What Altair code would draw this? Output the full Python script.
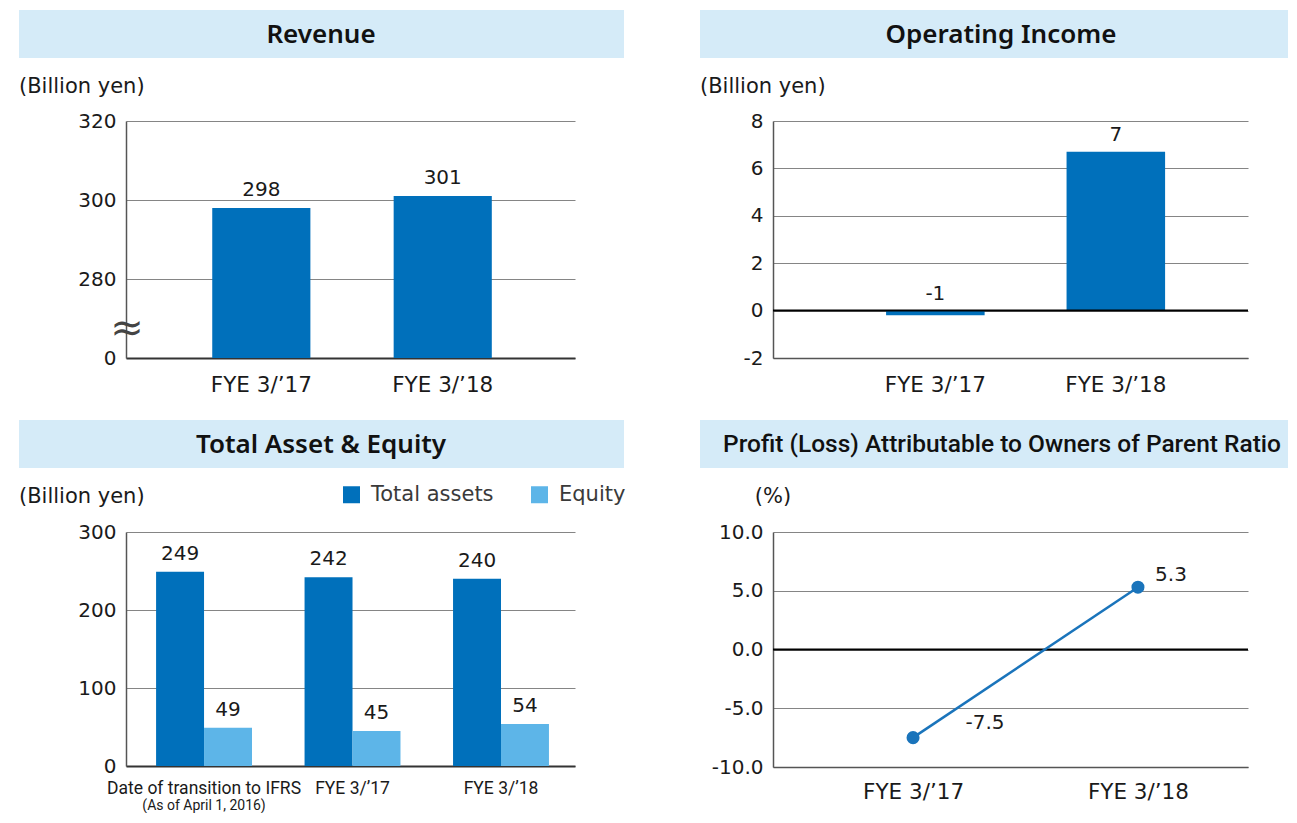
import altair as alt
import pandas as pd

# ---------------- data ----------------
years = ["FYE 3/’17", "FYE 3/’18"]
revenue = [298, 301]
revenue_ticks = [260, 280, 300, 320]          # 260 is the axis break, shown as "0"
operating_income = [-0.2, 6.7]
operating_income_labels = ["-1", "7"]
operating_ticks = [-2, 0, 2, 4, 6, 8]
asset_categories = ["Date of transition to IFRS", "FYE 3/’17", "FYE 3/’18"]
asset_note = "(As of April 1, 2016)"
series_names = ["Total assets", "Equity"]
total_assets = [249, 242, 240]
equity = [49, 45, 54]
asset_ticks = [0, 100, 200, 300]
profit_ratio = [-7.5, 5.3]
profit_ratio_labels = ["-7.5", "5.3"]
ratio_ticks = [-10, -5, 0, 5, 10]

titles = ["Revenue", "Operating Income", "Total Asset & Equity",
          "Profit (Loss) Attributable to Owners of Parent Ratio"]
unit_yen = "(Billion yen)"
unit_pct = "(%)"

# ---------------- style ----------------
FONT = "DejaVu Sans"
NARROW = "Roboto"
TITLE_FONT = "Noto Sans"
BLUE = "#0070bb"
LIGHT = "#5db5e8"
LINE = "#1a74bb"
HEADER_BG = "#d5ebf8"
GRID = "#858585"
AXIS = "#555555"
TEXT = "#1a1a1a"
HYPHEN = "replace(datum.label, '\u2212', '-')"

one = pd.DataFrame({"k": [0]})


def header(title, x0, x1, y0, y1, cx, font=TITLE_FONT, size=26, weight=600):
    rect = alt.Chart(one).mark_rect(color=HEADER_BG).encode(
        x=alt.value(x0), x2=alt.value(x1), y=alt.value(y0), y2=alt.value(y1))
    txt = alt.Chart(one).mark_text(
        text=title, font=font, fontSize=size, fontWeight=weight, color="#111111",
        align="center", baseline="middle").encode(
        x=alt.value(cx), y=alt.value((y0 + y1) / 2 + 1))
    return [rect, txt]


def unit(text, x, y, align="left"):
    return alt.Chart(one).mark_text(
        text=text, font=FONT, fontSize=21, color=TEXT, align=align,
        baseline="middle").encode(x=alt.value(x), y=alt.value(y))


def yaxis(values, expr=HYPHEN, fmt=None):
    kw = dict(values=values, title=None, domain=True, domainColor=AXIS,
              domainWidth=1.5, ticks=False, tickSize=0, grid=True,
              gridColor=GRID, gridWidth=1.2, labelFont=FONT, labelFontSize=20,
              labelColor=TEXT, labelPadding=10, labelExpr=expr)
    if fmt:
        kw["format"] = fmt
    return alt.Axis(**kw)


def xaxis(pad, dom_color="#333333", dom_width=2, font=FONT, size=21.5):
    return alt.Axis(title=None, labelAngle=0, domain=True, domainColor=dom_color,
                    domainWidth=dom_width, ticks=False, tickSize=0, grid=False,
                    labelFont=font, labelFontSize=size, labelColor=TEXT,
                    labelPadding=pad, labelLimit=0)


# ---------------- panel 1: revenue ----------------
W1, H1 = 449, 237
rev_df = pd.DataFrame({"year": years, "value": revenue})
x1 = alt.X("year:N", sort=years,
           scale=alt.Scale(paddingInner=0.459, paddingOuter=0.467, align=0.509),
           axis=xaxis(16))
y1 = alt.Y("value:Q",
           scale=alt.Scale(domain=[260, 320], clamp=True, zero=False, nice=False),
           axis=yaxis(revenue_ticks, expr="datum.value == 260 ? '0' : datum.label"))
rev_bars = alt.Chart(rev_df).mark_bar(color=BLUE).encode(x=x1, y=y1)
rev_text = alt.Chart(rev_df).mark_text(
    font=FONT, fontSize=20, color=TEXT, dy=-12, baseline="alphabetic").encode(
    x=alt.X("year:N", sort=years), y="value:Q", text="value:Q")
brk = alt.Chart(one).mark_text(text="≈", font=FONT, fontSize=40, color="#444444",
                               baseline="middle").encode(
    x=alt.value(1), y=alt.value(208))
p1 = alt.layer(*header(titles[0], -107, 498, -111, -63, 195),
               unit(unit_yen, -107, -34), rev_bars, rev_text, brk
               ).properties(width=W1, height=H1)

# ---------------- panel 2: operating income ----------------
W2, H2 = 475, 237
oi_df = pd.DataFrame({"year": years, "value": operating_income,
                      "label": operating_income_labels})
x2 = alt.X("year:N", sort=years,
           scale=alt.Scale(paddingInner=0.454, paddingOuter=0.543, align=0.577),
           axis=xaxis(16, dom_color=AXIS, dom_width=1.5))
y2 = alt.Y("value:Q", scale=alt.Scale(domain=[-2, 8], nice=False),
           axis=yaxis(operating_ticks))
oi_bars = alt.Chart(oi_df).mark_bar(color=BLUE).encode(x=x2, y=y2)
oi_text = alt.Chart(oi_df).transform_calculate(
    pos="max(datum.value, 0)").mark_text(
    font=FONT, fontSize=20, color=TEXT, dy=-11, baseline="alphabetic").encode(
    x=alt.X("year:N", sort=years), y="pos:Q", text="label:N")
oi_zero = alt.Chart(one).mark_rule(color="#000000", strokeWidth=2).encode(
    y=alt.datum(0))
p2 = alt.layer(*header(titles[1], -73, 515, -111, -63, 228),
               unit(unit_yen, -73, -34), oi_bars, oi_zero, oi_text
               ).properties(width=W2, height=H2)

# ---------------- panel 3: total assets & equity ----------------
W3, H3 = 449, 234
rows = []
for c, ta, eq in zip(asset_categories, total_assets, equity):
    rows.append({"category": c, "series": series_names[0], "value": ta})
    rows.append({"category": c, "series": series_names[1], "value": eq})
ae_df = pd.DataFrame(rows)
x3 = alt.X("category:N", sort=asset_categories,
           scale=alt.Scale(paddingInner=0.354, paddingOuter=0.189, align=0.536),
           axis=xaxis(13, font=NARROW, size=17.5))
xo3 = alt.XOffset("series:N", sort=series_names,
                  scale=alt.Scale(paddingInner=0, paddingOuter=0))
y3 = alt.Y("value:Q", scale=alt.Scale(domain=[0, 300], nice=False),
           axis=yaxis(asset_ticks))
col3 = alt.Color("series:N", sort=series_names,
                 scale=alt.Scale(domain=series_names, range=[BLUE, LIGHT]),
                 legend=alt.Legend(title=None, orient="none", direction="horizontal",
                                   legendX=215, legendY=H1 + 174 - 48, padding=0,
                                   symbolType="square", symbolSize=289,
                                   symbolStrokeWidth=0, symbolOpacity=1,
                                   labelFont=FONT, labelFontSize=21,
                                   labelColor="#3a3a3a", labelOffset=9,
                                   columnPadding=35))
ae_bars = alt.Chart(ae_df).mark_bar().encode(x=x3, xOffset=xo3, y=y3, color=col3)
ae_text = alt.Chart(ae_df).mark_text(
    font=FONT, fontSize=20, color=TEXT, dy=-12, baseline="alphabetic").encode(
    x=alt.X("category:N", sort=asset_categories),
    xOffset=alt.XOffset("series:N", sort=series_names),
    y="value:Q", text="value:Q")
note_df = pd.DataFrame({"category": [asset_categories[0]], "note": [asset_note]})
ae_note = alt.Chart(note_df).mark_text(
    font=NARROW, fontSize=14, color=TEXT, baseline="middle").encode(
    x=alt.X("category:N", sort=asset_categories), y=alt.value(274), text="note:N")
p3 = alt.layer(*header(titles[2], -107, 498, -112, -64, 195),
               unit(unit_yen, -107, -35), ae_bars, ae_text, ae_note
               ).properties(width=W3, height=H3)

# ---------------- panel 4: profit ratio ----------------
W4, H4 = 475, 235
pr_df = pd.DataFrame({"year": years, "value": profit_ratio,
                      "label": profit_ratio_labels})
x4 = alt.X("year:N", sort=years,
           scale=alt.Scale(type="point", padding=0.556, align=0.56),
           axis=xaxis(14, dom_color=AXIS, dom_width=1.5))
y4 = alt.Y("value:Q", scale=alt.Scale(domain=[-10, 10], nice=False),
           axis=yaxis(ratio_ticks, fmt=".1f"))
pr_zero = alt.Chart(one).mark_rule(color="#000000", strokeWidth=2).encode(
    y=alt.datum(0))
pr_line = alt.Chart(pr_df).mark_line(color=LINE, strokeWidth=2.5).encode(x=x4, y=y4)
pr_pts = alt.Chart(pr_df).mark_circle(color=LINE, size=170, opacity=1).encode(
    x=alt.X("year:N", sort=years), y="value:Q")
pr_t1 = alt.Chart(pr_df).transform_filter(alt.datum.year == years[0]).mark_text(
    font=FONT, fontSize=20, color=TEXT, dx=72, dy=-15, baseline="middle").encode(
    x=alt.X("year:N", sort=years), y="value:Q", text="label:N")
pr_t2 = alt.Chart(pr_df).transform_filter(alt.datum.year == years[1]).mark_text(
    font=FONT, fontSize=20, color=TEXT, dx=33, dy=-12, baseline="middle").encode(
    x=alt.X("year:N", sort=years), y="value:Q", text="label:N")
p4 = alt.layer(*header(titles[3], -73, 515, -112, -64, 229, font=NARROW, size=24.5,
                       weight=500),
               unit(unit_pct, 0, -35, align="center"),
               pr_zero, pr_line, pr_pts, pr_t1, pr_t2
               ).properties(width=W4, height=H4)

chart = alt.concat(p1, p2, p3, p4, columns=2,
                   spacing={"row": 174, "column": 198},
                   bounds="flush", align="each"
                   ).properties(
    padding={"left": 11, "top": 2, "right": 0, "bottom": 0}
).configure_view(stroke=None)

chart.save("out.html", embed_options={"renderer": "svg", "actions": False})
